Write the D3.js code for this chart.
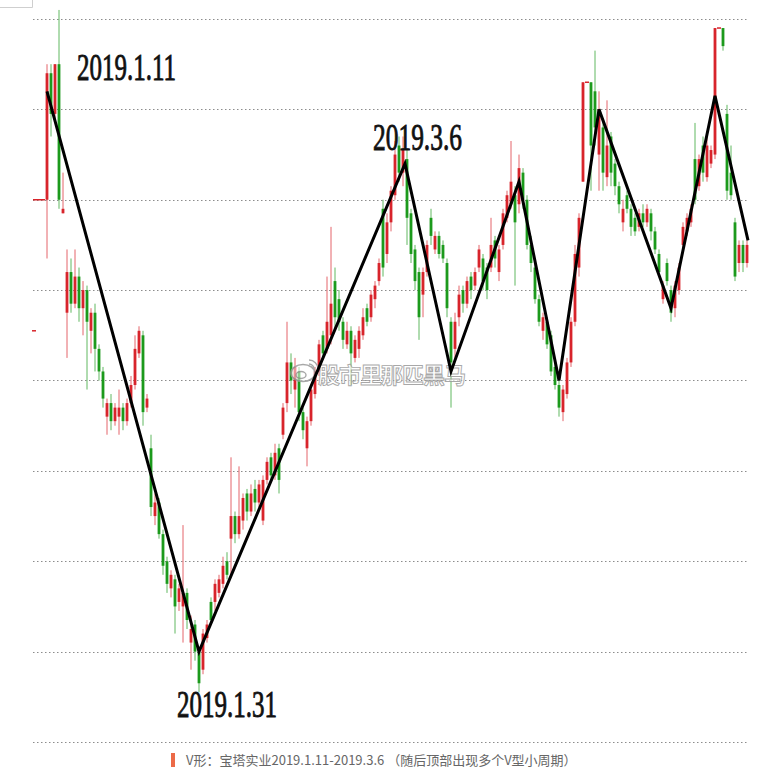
<!DOCTYPE html>
<html>
<head>
<meta charset="utf-8">
<script src="https://cdn.jsdelivr.net/npm/d3@7"></script>
<style>
  body { margin: 0; background: #fff; }
  svg { display: block; }
</style>
</head>
<body>
<div id="chart"></div>
<script>
// k-line bars (price in yuan)
const opens = [3.60,3.60,3.60,3.60,3.88,3.79,3.90,3.57,3.35,3.44,3.37,3.43,3.36,3.40,3.31,3.35,3.27,3.22,3.12,3.15,
  3.11,3.12,3.14,3.11,3.15,3.19,3.26,3.30,3.14,3.05,2.90,2.93,2.86,2.80,2.74,2.76,2.71,2.70,2.73,2.62,
  2.66,2.60,2.56,2.63,2.71,2.71,2.73,2.75,2.80,2.85,2.90,2.86,2.89,2.95,2.91,2.96,2.93,2.89,2.98,3.03,
  2.99,3.05,3.08,3.15,3.24,3.18,3.22,3.13,3.05,3.11,3.17,3.22,3.30,3.27,3.30,3.42,3.38,3.33,3.28,3.31,
  3.25,3.27,3.30,3.36,3.34,3.38,3.42,3.58,3.48,3.55,3.61,3.72,3.66,3.69,3.57,3.49,3.44,3.39,3.44,3.56,
  3.49,3.52,3.50,3.46,3.33,3.27,3.34,3.40,3.37,3.43,3.41,3.45,3.47,3.45,3.45,3.51,3.44,3.50,3.56,3.59,
  3.61,3.59,3.66,3.60,3.50,3.45,3.38,3.31,3.33,3.30,3.23,3.19,3.13,3.17,3.24,3.33,3.45,3.64,3.86,3.86,
  3.84,3.70,3.76,3.65,3.74,3.68,3.63,3.55,3.61,3.58,3.56,3.54,3.57,3.55,3.57,3.53,3.48,3.38,3.46,3.40,
  3.36,3.40,3.50,3.53,3.55,3.69,3.63,3.72,3.65,3.68,3.70,3.98,3.98,3.79,3.66,3.55,3.46,3.50,3.46];
const closes = [3.60,3.60,3.60,3.88,3.79,3.90,3.60,3.58,3.44,3.37,3.43,3.36,3.40,3.33,3.35,3.27,3.22,3.16,3.15,3.11,
  3.14,3.14,3.11,3.15,3.19,3.27,3.31,3.13,3.16,2.92,2.93,2.86,2.79,2.75,2.77,2.70,2.74,2.73,2.67,2.65,
  2.60,2.53,2.64,2.66,2.67,2.75,2.76,2.79,2.77,2.90,2.86,2.90,2.94,2.91,2.95,2.93,2.97,2.98,3.02,2.99,
  3.04,2.98,3.14,3.24,3.20,3.23,3.13,3.09,3.11,3.18,3.22,3.28,3.26,3.33,3.37,3.34,3.33,3.29,3.31,3.26,
  3.29,3.31,3.34,3.33,3.39,3.41,3.46,3.45,3.55,3.62,3.70,3.66,3.71,3.56,3.48,3.42,3.34,3.44,3.50,3.52,
  3.52,3.48,3.47,3.36,3.24,3.33,3.39,3.37,3.42,3.40,3.44,3.49,3.42,3.40,3.50,3.47,3.49,3.57,3.61,3.64,
  3.55,3.67,3.60,3.50,3.46,3.38,3.33,3.34,3.28,3.22,3.19,3.14,3.18,3.24,3.33,3.48,3.56,3.86,3.86,3.72,
  3.76,3.80,3.66,3.72,3.66,3.63,3.59,3.58,3.58,3.54,3.53,3.57,3.55,3.58,3.53,3.49,3.44,3.41,3.42,3.35,
  3.41,3.45,3.54,3.56,3.58,3.60,3.69,3.66,3.72,3.71,3.98,3.98,3.94,3.62,3.61,3.43,3.50,3.46,3.50];
const highs = [3.60,3.60,3.60,3.90,3.90,3.90,4.02,3.66,3.49,3.47,3.49,3.45,3.42,3.41,3.36,3.37,3.28,3.23,3.16,3.17,
  3.15,3.18,3.15,3.16,3.21,3.30,3.32,3.31,3.17,3.08,2.95,2.94,2.87,2.81,2.78,2.77,2.75,2.88,2.74,2.68,
  2.67,2.61,2.65,2.67,2.72,2.76,2.77,2.81,2.82,3.03,2.91,3.01,2.95,2.96,2.97,2.98,2.98,2.99,3.03,3.04,
  3.06,3.06,3.15,3.33,3.26,3.25,3.23,3.14,3.12,3.19,3.23,3.29,3.31,3.43,3.54,3.45,3.40,3.34,3.33,3.32,
  3.30,3.32,3.36,3.37,3.40,3.42,3.47,3.60,3.57,3.63,3.73,3.74,3.74,3.71,3.58,3.50,3.45,3.45,3.51,3.58,
  3.53,3.53,3.51,3.47,3.34,3.35,3.41,3.41,3.43,3.44,3.45,3.50,3.48,3.46,3.56,3.52,3.50,3.58,3.62,3.73,
  3.63,3.70,3.67,3.61,3.52,3.46,3.39,3.35,3.34,3.31,3.24,3.20,3.19,3.25,3.34,3.50,3.57,3.86,3.86,3.86,
  3.93,3.84,3.78,3.82,3.75,3.69,3.64,3.60,3.62,3.59,3.57,3.58,3.59,3.59,3.58,3.54,3.49,3.42,3.47,3.41,
  3.42,3.46,3.55,3.57,3.59,3.77,3.70,3.74,3.75,3.72,3.98,3.98,3.98,3.81,3.72,3.56,3.51,3.51,3.51];
const lows = [3.60,3.60,3.60,3.47,3.74,3.77,3.58,3.57,3.25,3.35,3.36,3.33,3.30,3.18,3.26,3.22,3.20,3.14,3.08,3.09,
  3.10,3.08,3.09,3.10,3.14,3.18,3.25,3.10,3.13,2.90,2.88,2.85,2.77,2.73,2.72,2.64,2.69,2.62,2.65,2.56,
  2.58,2.51,2.55,2.62,2.66,2.69,2.72,2.74,2.76,2.77,2.84,2.85,2.87,2.89,2.90,2.91,2.92,2.88,2.97,2.98,
  2.98,2.95,3.07,3.13,3.17,3.14,3.11,3.07,3.01,3.10,3.16,3.21,3.25,3.26,3.28,3.31,3.31,3.27,3.27,3.19,
  3.24,3.25,3.29,3.32,3.33,3.36,3.41,3.43,3.46,3.53,3.60,3.64,3.63,3.50,3.46,3.40,3.29,3.34,3.43,3.50,
  3.48,3.47,3.46,3.34,3.14,3.25,3.32,3.35,3.36,3.38,3.40,3.44,3.40,3.38,3.44,3.45,3.42,3.49,3.55,3.58,
  3.41,3.57,3.58,3.49,3.44,3.37,3.32,3.29,3.27,3.21,3.18,3.12,3.11,3.16,3.23,3.32,3.43,3.64,3.86,3.62,
  3.72,3.62,3.62,3.63,3.63,3.61,3.57,3.53,3.57,3.52,3.52,3.53,3.54,3.54,3.51,3.48,3.43,3.37,3.41,3.33,
  3.34,3.39,3.49,3.52,3.54,3.59,3.62,3.64,3.64,3.67,3.69,3.98,3.93,3.60,3.60,3.42,3.44,3.44,3.45];

// turning points of the V zigzag: bar index and price
const turnIndex = [3, 41, 92.5, 104, 121, 131, 141, 159, 170, 178.25];
const turnPrice = [3.84, 2.60, 3.68, 3.22, 3.64, 3.20, 3.80, 3.36, 3.83, 3.51];
const turnLabels = ["2019.1.11", "2019.1.31", "2019.3.6"];

// dotted price grid
const gridPrices = [2.4, 2.6, 2.8, 3.0, 3.2, 3.4, 3.6, 3.8, 4.0];
const prevClose = 3.31;

const watermark = "股市里那匹黑马";
const caption = "V形：宝塔实业2019.1.11-2019.3.6 （随后顶部出现多个V型小周期）";

const UP = "#d8242b";
const DOWN = "#1c9a1c";

const width = 759, height = 776;
const plot = { left: 33, right: 749, top: 19, bottom: 742 };

const svg = d3.select("#chart").append("svg")
  .attr("width", width)
  .attr("height", height);

const bars = opens.map((o, i) => ({ i, o, c: closes[i], h: highs[i], l: lows[i] }));

const x = d3.scaleBand()
  .domain(d3.range(bars.length))
  .range([plot.left, plot.right])
  .paddingInner(0.3)
  .paddingOuter(0.15);

const y = d3.scaleLinear()
  .domain([2.4, 4.0])
  .range([plot.bottom, plot.top]);

// centre of a (possibly fractional) bar index
const cx = i => x(0) + i * x.step() + x.bandwidth() / 2;

// corner of a frame left over at the top left
svg.append("path")
  .attr("d", "M0,7.5H32.5V0")
  .attr("fill", "none")
  .attr("stroke", "#cfcfcf");

const addGrid = () => {
  svg.append("g")
    .selectAll("line")
    .data(gridPrices)
    .enter().append("line")
      .attr("x1", plot.left)
      .attr("x2", plot.right - 1)
      .attr("y1", d => Math.round(y(d)) + 0.5)
      .attr("y2", d => Math.round(y(d)) + 0.5)
      .attr("stroke", "#8c8c8c")
      .attr("stroke-width", 1)
      .attr("stroke-dasharray", "1.5,2.5");
};

const generateBars = () => {
  const g = svg.append("g");
  const color = d => d.c >= d.o ? UP : DOWN;

  // previous close tick at the left edge
  g.append("line")
    .attr("x1", plot.left - 1).attr("x2", plot.left + 3)
    .attr("y1", y(prevClose)).attr("y2", y(prevClose))
    .attr("stroke", UP).attr("stroke-width", 1.5);

  g.selectAll(".wick")
    .data(bars)
    .enter().append("line")
      .attr("class", "wick")
      .attr("x1", d => cx(d.i))
      .attr("x2", d => cx(d.i))
      .attr("y1", d => y(d.h))
      .attr("y2", d => y(d.l))
      .attr("stroke", color)
      .attr("stroke-opacity", 0.7)
      .attr("stroke-width", 1);

  // flat (limit) bars are drawn over the whole step so they join up
  g.selectAll(".body")
    .data(bars)
    .enter().append("rect")
      .attr("class", "body")
      .attr("x", d => d.o === d.c ? cx(d.i) - x.step() / 2 : x(d.i))
      .attr("width", d => d.o === d.c ? x.step() : x.bandwidth())
      .attr("y", d => {
        const top = y(Math.max(d.o, d.c));
        return d.o === d.c ? top - 0.75 : top;
      })
      .attr("height", d => Math.max(1.5, Math.abs(y(d.o) - y(d.c))))
      .attr("fill", color);
};

const addWatermark = () => {
  const g = svg.append("g").attr("opacity", 0.85);
  g.append("ellipse")
    .attr("cx", 303).attr("cy", 373).attr("rx", 12).attr("ry", 8.5)
    .attr("fill", "#fff").attr("fill-opacity", 0.6)
    .attr("stroke", "#9a9a9a").attr("stroke-width", 1.6);
  g.append("ellipse")
    .attr("cx", 301).attr("cy", 375).attr("rx", 5).attr("ry", 3.5)
    .attr("fill", "none").attr("stroke", "#9a9a9a").attr("stroke-width", 1.4);
  g.append("path")
    .attr("d", "M309,360 A9,9 0 0 1 318,369 M309,364 A5,5 0 0 1 314,369")
    .attr("fill", "none").attr("stroke", "#9a9a9a").attr("stroke-width", 1.4);
  g.append("text")
    .attr("x", 318).attr("y", 383)
    .attr("font-family", "'Noto Sans CJK SC', sans-serif")
    .attr("font-size", 22)
    .attr("font-weight", "bold")
    .attr("fill", "#fff").attr("fill-opacity", 0.75)
    .attr("stroke", "#9a9a9a").attr("stroke-width", 0.9)
    .attr("textLength", 148)
    .text(watermark);
};

const drawZigzag = () => {
  const pts = turnIndex.map((d, k) => [cx(d), y(turnPrice[k])]);
  svg.append("path")
    .attr("d", d3.line()(pts))
    .attr("fill", "none")
    .attr("stroke", "#000")
    .attr("stroke-width", 3)
    .attr("stroke-linejoin", "miter");

  // where each date sits relative to its turning point
  const place = [{ dx: 30, dy: -11, w: 99 }, { dx: -22, dy: 65, w: 100 }, { dx: -32, dy: -14, w: 89 }];
  svg.append("g")
    .selectAll("text")
    .data(turnLabels)
    .enter().append("text")
      .attr("x", (d, k) => pts[k][0] + place[k].dx)
      .attr("y", (d, k) => pts[k][1] + place[k].dy)
      .attr("font-family", "'Liberation Serif', 'Times New Roman', serif")
      .attr("font-size", 38)
      .attr("fill", "#111")
      .attr("stroke", "#111")
      .attr("stroke-width", 0.9)
      .attr("textLength", (d, k) => place[k].w)
      .attr("lengthAdjust", "spacingAndGlyphs")
      .text(d => d);
};

const addCaption = () => {
  svg.append("rect")
    .attr("x", 171).attr("y", 753).attr("width", 4).attr("height", 14)
    .attr("fill", "#ec6a48");
  svg.append("text")
    .attr("x", 186).attr("y", 765)
    .attr("font-family", "'Noto Sans CJK SC', sans-serif")
    .attr("font-size", 13)
    .attr("fill", "#666")
    .text(caption);
};

addGrid();
generateBars();
addWatermark();
drawZigzag();
addCaption();
</script>
</body>
</html>
